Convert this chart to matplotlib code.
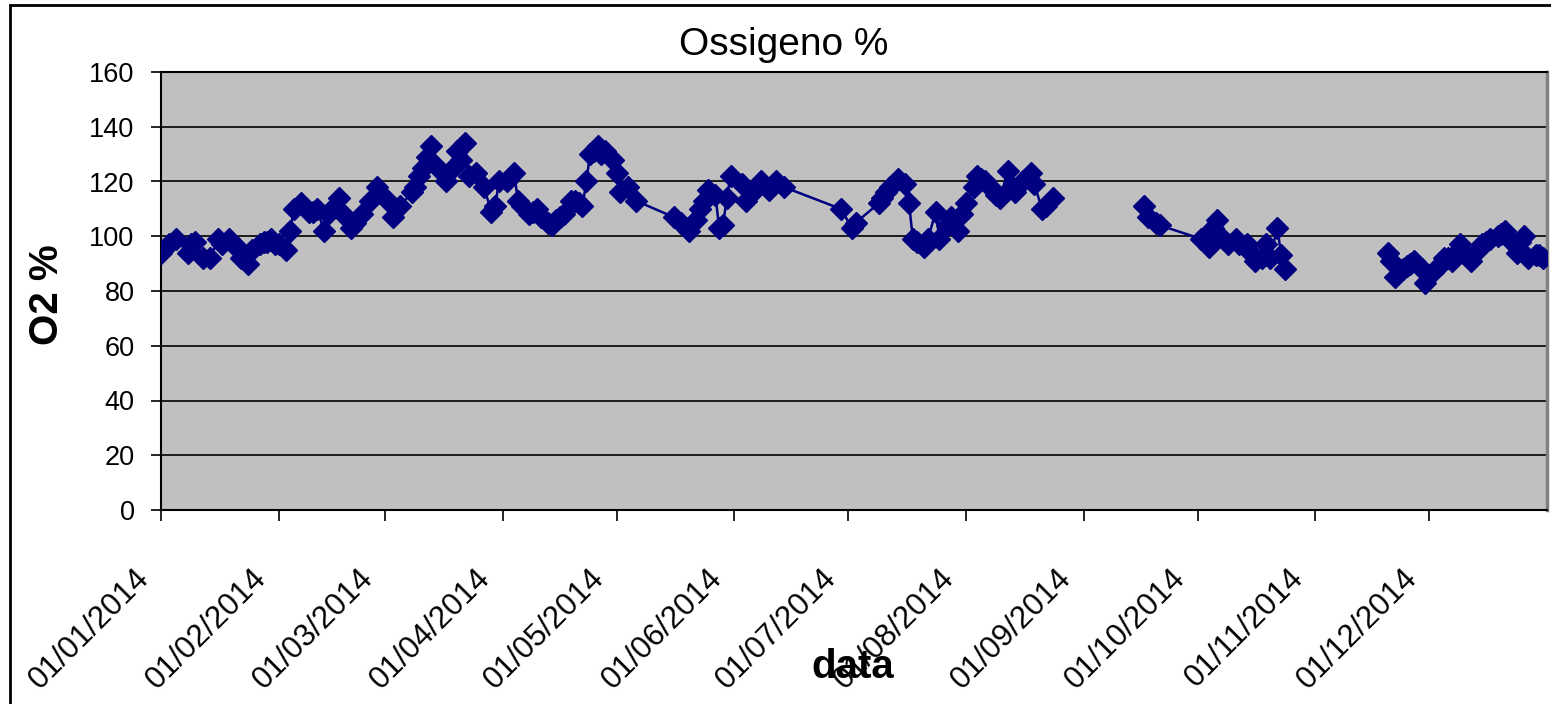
""" ossigeno_2014.py
grafico O2 % giornaliero (stile foglio Excel)
"""

import numpy as np
import pandas as pd
import matplotlib
matplotlib.use('Agg')
import matplotlib.pyplot as plt
import matplotlib.dates as mdates
from matplotlib.transforms import ScaledTranslation

plt.rcParams['font.family'] = ['Liberation Sans', 'DejaVu Sans']

# giorni dal 01/01/2014 e valori O2 % (nan = interruzione della serie)
giorno = [0, 2, 4, 7, 8, 9, 11, 13, 15, 16, 18, 19, 20, 21, 23, 24, 26, 27, 28, 29,
          30, 31, 33, 34, 35, 37, 39, 40, 41, 43, 44, 45, 47, 48, 50, 51, 53, 55, 57, 59,
          61, 62, 63, 66, 67, 68, 69, 70, 71, 73, 75, 77, 78, 79, 80, 81, 83, 85, 87, 88,
          89, 91, 93, 94, 95, 97, 98, 99, 100, 102, 103, 104, 105, 106, 108, 109, 110, 111, 112, 113,
          114, 115, 116, 117, 119, 120, 121, 123, 125,
          135, 137, 139, 141, 142, 143, 144, 146, 147, 148, 149, 150, 153, 154, 156, 157, 158, 160, 162, 164,
          179, 182, 183,
          189, 190, 191, 192, 194, 196, 197, 198, 199, 201, 202, 204, 205, 207, 208, 210, 211, 212, 214, 215,
          216, 217, 219, 220, 221, 223, 224, 225, 227, 229, 230, 232, 233, 235,
          247,
          259, 260, 262, 263,
          274, 276, 277, 278, 279, 281, 283, 284, 286, 287, 288, 290, 291, 292, 294, 295, 296,
          310,
          323, 324, 325, 327, 328, 329, 330, 332, 333, 334, 335, 337, 338, 339, 340, 341, 342, 343, 345, 346,
          348, 349, 350, 352, 353, 354, 355, 357, 358, 359, 360, 362, 363, 364]

o2 = [94, 97, 99, 94, 97, 98, 92, 92, 99, 97, 99, 97, 96, 92, 90, 95, 97, 98, 98, 99,
      97, 97, 95, 102, 110, 112, 109, 109, 110, 102, 108, 110, 114, 108, 103, 105, 108, 113, 118, 114,
      107, 110, 111, 116, 118, 122, 125, 129, 133, 125, 120, 125, 131, 128, 134, 122, 123, 118, 109, 111,
      120, 120, 123, 113, 111, 108, 109, 110, 107, 105, 104, 106, 107, 108, 113, 113, 112, 111, 120, 130,
      131, 133, 130, 131, 128, 123, 116, 118, 113,
      107, 105, 102, 106, 110, 113, 117, 115, 103, 104, 114, 122, 119, 113, 116, 118, 120, 117, 120, 118,
      110, 103, 105,
      112, 114, 116, 118, 121, 119, 112, 99, 98, 96, 99, 109, 99, 104, 107, 102, 108, 112, 118, 122,
      121, 120, 117, 115, 114, 124, 118, 116, 120, 123, 119, 110, 111, 114,
      np.nan,
      111, 107, 105, 104,
      99, 96, 103, 106, 100, 97, 99, 97, 97, 94, 91, 92, 97, 92, 103, 93, 88,
      np.nan,
      94, 91, 85, 88, 89, 90, 91, 88, 83, 86, 87, 90, 92, 92, 91, 94, 97, 94, 91, 94,
      97, 98, 99, 100, 101, 102, 99, 94, 98, 100, 92, 93, 93, 92]

y_ticks = [0, 20, 40, 60, 80, 100, 120, 140, 160]

date = pd.Timestamp('2014-01-01') + pd.to_timedelta(giorno, unit='D')
serie = pd.Series(o2, index=date)

fig = plt.figure(figsize=(15.51, 7.04), dpi=100)
ax = fig.add_axes([161 / 1551, 1 - 510 / 704, (1547 - 161) / 1551, (510 - 72) / 704])
ax.set_facecolor('#C0C0C0')

# cornice esterna del grafico
fig.add_artist(plt.Rectangle((10 / 1551, -0.1), 2, 1.1 - 5 / 704, transform=fig.transFigure,
                             fill=False, edgecolor='black', linewidth=2))

ax.plot(serie.index, serie.values, color='#000080', linewidth=1.8,
        marker='D', markersize=11.5, markeredgecolor='#000080', markerfacecolor='#000080', zorder=3)

ax.set_ylim(0, 160)
ax.set_yticks(y_ticks)
ax.set_xlim(pd.Timestamp('2014-01-01'), pd.Timestamp('2015-01-01'))
ax.xaxis.set_major_locator(mdates.MonthLocator(bymonth=range(1, 13)))
ax.xaxis.set_major_formatter(mdates.DateFormatter('%d/%m/%Y'))
ax.set_xticks([t for t in ax.get_xticks() if t < mdates.date2num(pd.Timestamp('2015-01-01'))])

ax.grid(axis='y', color='black', linewidth=1.2)
ax.set_axisbelow(True)

for s in ['left', 'bottom', 'top']:
    ax.spines[s].set_color('black')
    ax.spines[s].set_linewidth(1.5)
ax.spines['right'].set_color('#808080')
ax.spines['right'].set_linewidth(2.5)

ax.tick_params(axis='y', direction='out', length=7, width=1.2, pad=12, labelsize=19.5)
ax.tick_params(axis='x', direction='out', length=8, width=1.2, pad=30, labelsize=22.5)
offset = ScaledTranslation(-0.06, 0, fig.dpi_scale_trans)
for lab in ax.get_xticklabels():
    lab.set_rotation(45)
    lab.set_ha('right')
    lab.set_va('top')
    lab.set_transform(lab.get_transform() + offset)

fig.text(784 / 1551, 1 - 45 / 704, 'Ossigeno %', fontsize=28, ha='center', va='center')
fig.text(47 / 1551, 1 - 295 / 704, 'O2 %', fontsize=29, fontweight='bold', rotation=90,
         ha='center', va='center')
fig.text(853 / 1551, 1 - 667 / 704, 'data', fontsize=29, fontweight='bold', ha='center', va='center')

plt.savefig('out.png', dpi=100)
